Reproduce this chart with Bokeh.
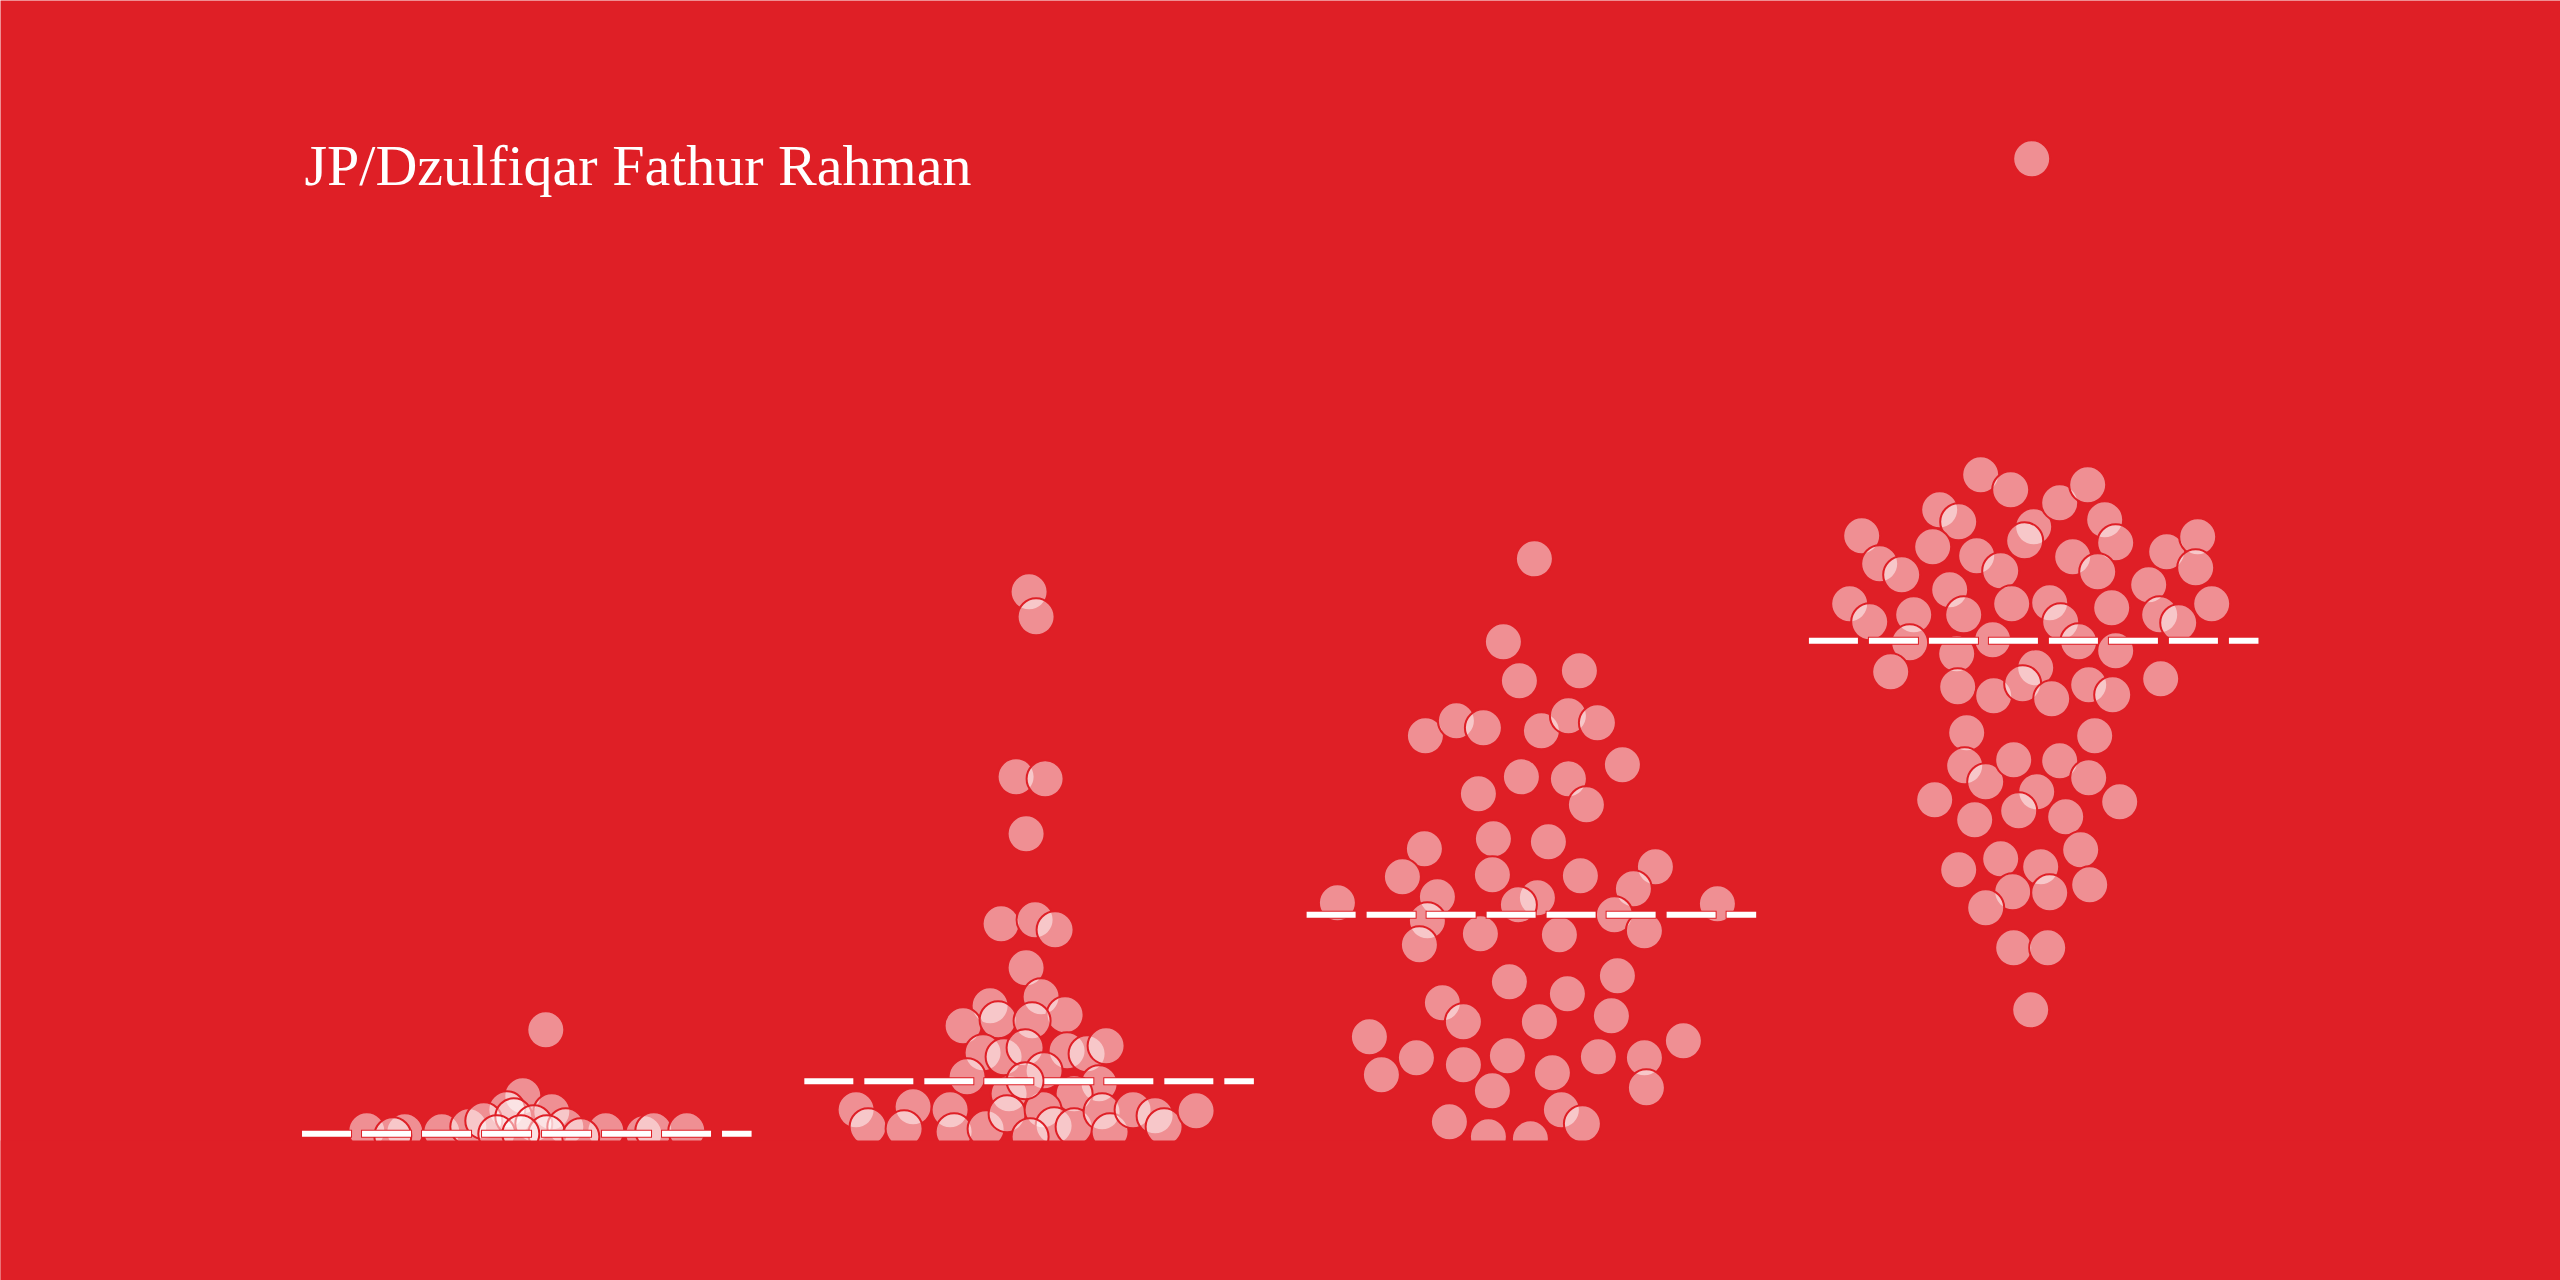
from bokeh.plotting import figure
from bokeh.models import Range1d, ColumnDataSource, Label, BoxAnnotation
from bokeh.embed import file_html
from bokeh.resources import INLINE

# ---------------- data ----------------
# value of each dot, and its beeswarm side offset (offset in swarm units)
G1_VALUE = [10.4, 3.8, 2.4, 2.2, 0.3, 0.2, -0.2, 0.2, 0.7, 1.3, 1.7, 1.0, 0.7, 0.3,
            0.0, 0.3, 0.3, 0.0, 0.0, 0.0, -0.3]
G1_OFFSET = [1.9, -0.4, -2.0, 2.5, -16.0, -12.2, -13.4, -8.5, -5.8, -4.3, -1.3, 0.7, 3.9, 7.9,
             11.7, 12.7, 16.0, -3.0, 2.0, -0.6, 5.4]

G2_VALUE = [54.2, 51.7, 35.7, 35.5, 30.0, 21.0, 21.4, 20.4, 16.6, 12.8, 13.7, 11.9, 10.8, 11.4,
            11.3, 8.1, 7.7, 8.6, 8.3, 8.0, 8.8, 5.7, 6.3, 4.0, 5.0, 4.0, 2.4, 0.7, 2.7, 0.5,
            2.4, 0.2, 0.5, 2.0, 2.4, 0.8, -0.3, 0.7, 2.2, 0.2, 2.4, 1.8, 0.7, 2.3, 5.3]
G2_OFFSET = [0.0, 0.7, -1.3, 1.6, -0.3, -2.8, 0.6, 2.6, -0.3, -3.9, 1.2, 3.6, -6.6, -3.1,
             0.3, -4.6, -2.5, -0.4, 3.8, 5.8, 7.7, -6.2, 1.5, -2.0, 7.0, 4.5, -17.3, -16.1, -11.6, -12.5,
             -7.9, -7.5, -4.3, -2.2, 1.4, 2.5, 0.1, 4.5, 7.3, 8.1, 10.4, 12.6, 13.5, 16.7, -0.4]

G3_VALUE = [57.5, 49.2, 45.3, 46.3, 39.8, 41.3, 40.6, 40.3, 41.8, 41.1, 36.9, 34.0, 35.7, 35.5,
            32.9, 28.5, 29.5, 29.2, 25.7, 25.9, 25.8, 26.7, 23.7, 24.5, 23.1, 23.6, 22.9, 23.0,
            21.3, 21.9, 18.9, 20.0, 19.9, 20.3, 15.2, 15.8, 14.0, 13.1, 11.2, 11.2, 11.8, 9.7,
            9.3, 7.6, 5.9, 6.9, 7.8, 6.1, 7.7, 7.6, 4.6, 4.3, 1.2, 2.4, 1.0, -0.3, -0.5]
G3_OFFSET = [0.3, -2.8, -1.2, 4.8, -10.6, -7.5, -4.8, 1.0, 3.7, 6.6, 9.1, -5.3, -1.0, 3.7,
             5.5, -10.7, -3.8, 1.7, -12.9, -3.9, 4.9, 12.4, -9.4, 10.2, -19.4, 0.6, -1.3, 18.6,
             -10.4, 8.3, -11.2, -5.1, 2.8, 11.3, -2.2, 8.6, 3.6, -8.9, -6.8, 0.8, 8.0, -16.2,
             15.2, -11.5, -15.0, -6.8, -2.4, 2.1, 6.7, 11.3, 11.5, -3.9, -8.2, 3.0, 5.1, -4.3, -0.1]

G4_VALUE = [97.5, 65.9, 64.4, 62.4, 61.2, 60.7, 59.3, 63.1, 64.9, 61.4, 59.1, 59.8, 57.0, 55.9,
            58.7, 57.8, 56.3, 57.7, 56.2, 58.2, 59.7, 56.6, 54.9, 53.0, 53.0, 51.2, 51.9, 54.4,
            51.9, 53.0, 53.1, 51.2, 52.6, 51.9, 51.1, 49.1, 49.4, 49.2, 48.3, 48.0, 46.2, 46.6,
            44.7, 43.8, 45.0, 43.5, 44.9, 43.9, 45.5, 40.1, 39.8, 36.8, 35.2, 37.4, 37.3, 35.6,
            33.4, 34.2, 32.3, 31.7, 33.2, 31.4, 28.4, 26.4, 27.5, 26.7, 24.2, 24.1, 24.9, 22.6,
            18.6, 18.6, 12.4]
G4_OFFSET = [-0.2, -5.3, -2.3, -9.4, -7.5, 0.0, -0.9, 2.6, 5.4, 7.1, 8.2, -17.2, -15.4, -13.2,
             -10.1, -5.7, -3.3, 3.9, 6.4, 13.3, 16.4, 16.2, 11.5, 17.8, -18.4, -16.4, -12.0, -8.4,
             -7.0, -2.2, 1.6, 2.7, 7.8, 12.6, 14.5, -12.4, -4.1, 4.5, 8.2, -7.7, -14.3, 0.2,
             -7.6, -4.0, -1.1, 1.8, 5.5, 7.9, 12.7, -6.7, 6.1, -6.9, -4.8, -2.0, 2.6, 5.5,
             -9.9, 0.3, -1.5, 3.2, 8.6, -5.9, 4.7, -7.5, -3.3, 0.7, -2.1, 1.6, 5.6, -4.8,
             -2.0, 1.4, -0.3]

VALUES = [G1_VALUE, G2_VALUE, G3_VALUE, G4_VALUE]
OFFSETS = [G1_OFFSET, G2_OFFSET, G3_OFFSET, G4_OFFSET]
MEDIANS = [0.0, 5.26, 21.9, 49.3]
CREDIT = "JP/Dzulfiqar Fathur Rahman"

# ---------------- layout / style ----------------
BG = "#DF1F26"
SWARM_UNIT = 10 / 502.3      # one offset unit in group-spacing units
HALF = 0.4475                # half length of the median line
PAD = 1 / 502.3
Y_CLIP = -0.67               # dots are cut below this level

xs, ys = [], []
for i, (vals, offs) in enumerate(zip(VALUES, OFFSETS)):
    for v, o in zip(vals, offs):
        xs.append(i + o * SWARM_UNIT)
        ys.append(v)
src = ColumnDataSource(data=dict(x=xs, y=ys))

p = figure(width=2560, height=1280, output_backend="svg", toolbar_location=None,
           x_range=Range1d(-1.0478, 4.0488), y_range=Range1d(Y_CLIP - 14.0, 113.33),
           x_axis_location=None, y_axis_location=None,
           min_border_left=0, min_border_right=0, min_border_top=0, min_border_bottom=0,
           background_fill_color=BG, border_fill_color=BG, outline_line_color=None)
p.grid.visible = False

p.scatter(x="x", y="y", source=src, size=37, fill_color="white", fill_alpha=0.5,
          line_color=BG, line_width=2)

p.add_layout(BoxAnnotation(top=Y_CLIP, fill_color=BG, fill_alpha=1.0, line_color=None,
                           level="overlay"))

for i, m in enumerate(MEDIANS):
    p.line([i - HALF - PAD, i + HALF + PAD], [m, m], line_color=BG, line_width=8,
           line_dash="51 9")
    p.line([i - HALF, i + HALF], [m, m], line_color="white", line_width=6,
           line_dash="49 11")

p.add_layout(Label(x=-0.4426, y=96.8, text=CREDIT, text_font="Liberation Serif",
                   text_font_size="58px", text_color="white", text_align="left",
                   text_baseline="alphabetic"))

open("out.html", "w").write(file_html(p, INLINE))
